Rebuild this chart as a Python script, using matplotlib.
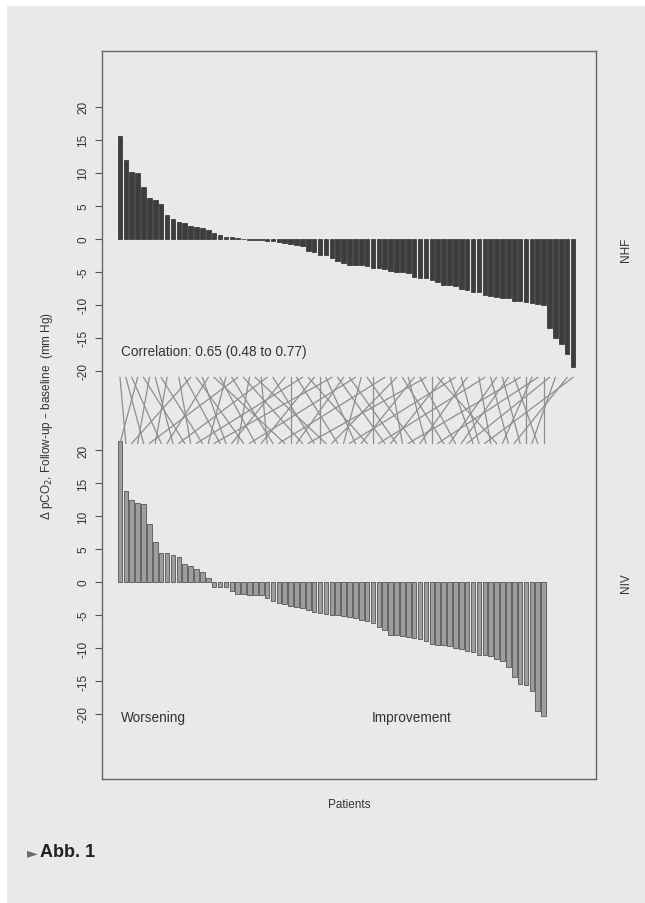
import matplotlib
matplotlib.use('Agg')
import matplotlib.pyplot as plt
from matplotlib.patches import Rectangle

plt.rcParams['font.family'] = ['Liberation Sans', 'DejaVu Sans']

# change in pCO2 per patient, sorted (mm Hg)
nhf_change = [15.6, 12.0, 10.1, 10.0, 7.9, 6.2, 5.9, 5.2, 3.6, 3.0,
              2.6, 2.4, 1.9, 1.75, 1.6, 1.3, 0.95, 0.5, 0.3, 0.2,
              0.05, -0.05, -0.15, -0.2, -0.25, -0.3, -0.4, -0.55, -0.65, -0.8,
              -0.9, -1.05, -1.9, -2.0, -2.4, -2.5, -2.9, -3.4, -3.7, -3.9,
              -4.0, -4.0, -4.1, -4.4, -4.5, -4.6, -4.9, -5.1, -5.1, -5.2,
              -5.75, -6.0, -6.0, -6.2, -6.6, -7.0, -7.0, -7.1, -7.6, -7.8,
              -8.0, -8.1, -8.5, -8.6, -8.8, -9.0, -9.0, -9.4, -9.5, -9.65,
              -9.75, -9.9, -10.1, -13.5, -15.0, -16.0, -17.5, -19.5]

niv_change = [21.3, 13.75, 12.45, 11.95, 11.75, 8.75, 6.05, 4.4, 4.4, 4.05,
              3.8, 2.7, 2.35, 2.0, 1.55, 0.6, -0.7, -0.75, -0.8, -1.4,
              -1.8, -1.85, -1.9, -1.95, -2.0, -2.5, -2.85, -3.2, -3.4, -3.6,
              -3.85, -4.0, -4.25, -4.5, -4.75, -4.9, -5.0, -5.0, -5.1, -5.25,
              -5.5, -5.75, -5.9, -6.25, -6.75, -7.25, -8.0, -8.1, -8.25, -8.4,
              -8.5, -8.6, -9.0, -9.4, -9.5, -9.6, -9.75, -10.0, -10.1, -10.4,
              -10.6, -11.0, -11.1, -11.25, -11.6, -11.9, -12.9, -14.4, -15.5, -15.6,
              -16.5, -19.5, -20.25]

# position in the NHF ranking of each NIV patient
pair_nhf_rank = [3, 0, 12, 5, 1, 20, 8, 2, 15, 6,
                 25, 4, 10, 31, 7, 18, 36, 11, 14, 28,
                 22, 13, 40, 17, 33, 24, 19, 45, 16, 29,
                 38, 21, 52, 26, 34, 23, 47, 30, 41, 57,
                 35, 50, 32, 43, 62, 37, 55, 39, 46, 68,
                 42, 59, 49, 53, 71, 48, 64, 51, 66, 73,
                 56, 58, 77, 61, 54, 70, 63, 76, 65, 69,
                 74, 67, 72]

y_ticks = [-20, -15, -10, -5, 0, 5, 10, 15, 20]
panel_labels = ['NHF', 'NIV']
corr_text = 'Correlation: 0.65 (0.48 to 0.77)'

OFFSET = 52  # upper panel is shifted up by this many units
YLO, YHI = -29.85, 80.45

fig = plt.figure(figsize=(6.45, 9.04), dpi=100)
fig.patch.set_facecolor('white')
fig.patches.append(Rectangle((7 / 645, 0), 1, 1 - 7 / 904, transform=fig.transFigure,
                             facecolor='#e9e9e9', edgecolor='none', zorder=-10))

ax = fig.add_axes([102 / 645, 1 - 780 / 904, (596 - 102) / 645, (780 - 52) / 904])
ax.set_facecolor('none')

ax.bar(range(len(nhf_change)), nhf_change, bottom=OFFSET, width=0.78,
       color='#3d3d3d', edgecolor='#2b2b2b', linewidth=0.5)
ax.bar(range(len(niv_change)), niv_change, width=0.78,
       color='#9d9d9d', edgecolor='#555555', linewidth=0.6)

# lines joining the same patient in both rankings
for i, r in enumerate(pair_nhf_rank):
    ax.plot([r, i], [OFFSET - 21, 21], color='#8e8e8e', linewidth=0.9)

ax.set_xlim(-3.06, 80.9)
ax.set_ylim(YLO, YHI)

ticks = [t + OFFSET for t in y_ticks] + y_ticks
ax.set_yticks(ticks)
ax.set_yticklabels([str(t) for t in y_ticks] * 2, rotation=90, va='center',
                   fontsize=8.5, color='#333333')
ax.tick_params(axis='y', length=5, width=0.8, color='#555555', pad=4)
ax.set_xticks([])
for s in ax.spines.values():
    s.set_color('#666666')
    s.set_linewidth(1.0)

ax.text(0.2, OFFSET - 17.0, corr_text, fontsize=9.8, color='#333333', va='center')
ax.text(0.2, -20.5, 'Worsening', fontsize=9.8, color='#333333', va='center')
ax.text(42.8, -20.5, 'Improvement', fontsize=9.8, color='#333333', va='center')

ax.set_ylabel('Δ pCO$_2$, Follow-up \u2013 baseline  (mm Hg)', fontsize=8.5,
              color='#333333', labelpad=16)
ax.set_xlabel('Patients', fontsize=8.5, color='#333333', labelpad=14)

ax.text(1.06, (OFFSET - 1.5 - YLO) / (YHI - YLO), panel_labels[0], transform=ax.transAxes,
        rotation=90, va='center', ha='center', fontsize=8.5, color='#333333')
ax.text(1.06, (0 - YLO) / (YHI - YLO), panel_labels[1], transform=ax.transAxes,
        rotation=90, va='center', ha='center', fontsize=8.5, color='#333333')

fig.text(27 / 645, 1 - 853 / 904, '\u25ba', fontsize=10, color='#6a6a6a', va='center',
         family=['DejaVu Sans'])
fig.text(40 / 645, 1 - 853 / 904, 'Abb. 1', fontsize=13, color='#222222', va='center',
         weight='bold', family=['Liberation Sans Narrow', 'Liberation Sans', 'DejaVu Sans'])

plt.savefig('out.png', dpi=100)
